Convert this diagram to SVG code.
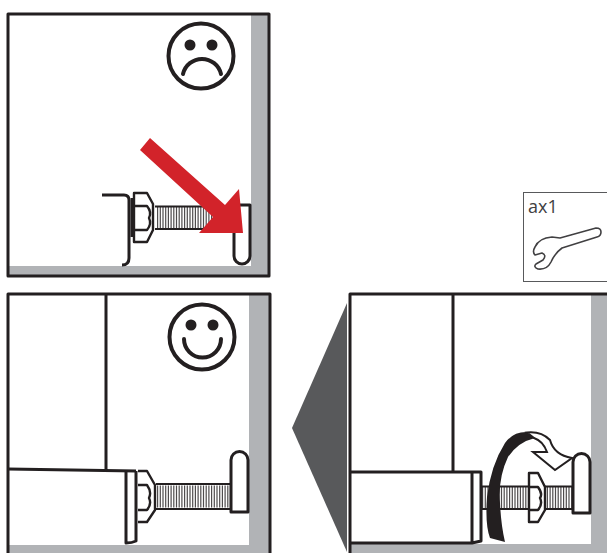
<svg xmlns="http://www.w3.org/2000/svg" width="607" height="553" viewBox="0 0 607 553">
<style>
.l{fill:none;stroke:#231f20;stroke-width:3;stroke-linejoin:round}
.n{fill:#fff;stroke:#231f20;stroke-width:2.4;stroke-linejoin:round}
.t{fill:none;stroke:#231f20;stroke-width:2}
.s{fill:none;stroke:#231f20;stroke-width:4;stroke-linecap:round}
.f{fill:none;stroke:#231f20;stroke-width:4}
.g{fill:#b1b3b6}
.h{fill:none;stroke:#231f20;stroke-width:22;stroke-dasharray:1.2 1.5;opacity:.8}
.e{fill:#231f20}
</style>
<rect width="607" height="553" fill="#fff"/>
<g id="panel-wrong">
<rect class="g" x="251" y="14" width="18" height="261"/>
<rect class="g" x="9" y="266" width="242" height="9"/>
<rect class="l" x="8" y="14" width="261" height="262"/>
<circle class="f" cx="201" cy="56" r="32.500"/>
<circle class="e" cx="190" cy="45" r="5.500"/>
<circle class="e" cx="212" cy="45" r="5.500"/>
<path class="s" d="M183 74A19.500 19.500 0 0 1 221 74"/>
<path class="l" d="M102 195H124Q129 195 129 200V258Q129 265 122 265"/>
<line class="h" x1="157" y1="217.500" x2="222" y2="217.500"/>
<path class="t" d="M155 206.500H225M155 229H205"/>
<path class="l" d="M132 198V237" />
<path class="n" d="M134 193H147L153 204V230L147 242H134ZM134 206H147Q152 212 149 218Q152 224 147 230H134"/>
<path class="l" d="M240 205H250V256A8 8 0 0 1 234 256V233"/>
<polygon points="140,150 150,138 225,205 239,189 243,233 199,233 213,217" fill="#d2232a"/>
</g>
<g id="panel-right">
<rect class="g" x="249" y="295" width="20" height="258"/>
<rect class="g" x="9" y="545" width="240" height="8"/>
<path class="l" d="M8 553V294H270V553"/>
<circle class="f" cx="202" cy="337" r="32.500"/>
<circle class="e" cx="191" cy="325" r="5.500"/>
<circle class="e" cx="213" cy="325" r="5.500"/>
<path class="s" d="M184 339A18.500 18.500 0 0 0 221 339"/>
<path class="l" d="M106 294V470M8 469L136 471"/>
<path class="l" d="M126 471V543Q132 543 136 541V471"/>
<line class="h" x1="157" y1="496.500" x2="230" y2="496.500"/>
<path class="t" d="M156 484H231M156 509H231"/>
<path class="n" d="M138 471H147L155 485V510L147 522H138M138 485H147Q152 492 149 498Q152 504 147 510H138"/>
<path class="l" d="M231 512V460A8.500 8.500 0 0 1 248 460V512Z"/>
</g>
<g id="panel-action">
<rect class="g" x="591" y="295" width="16" height="258"/>
<rect class="g" x="351" y="544" width="240" height="9"/>
<path class="l" d="M350 553V294H607"/>
<path class="l" d="M453 294V472M350 472H481V541L472 543H350M472 472V543"/>
<line class="h" x1="482" y1="497.500" x2="573" y2="497.500"/>
<path class="t" d="M482 486.500H573M482 509H573"/>
<path class="n" d="M529 473H538L545 487V510L538 522H529ZM529 487H538Q543 494 540 498Q543 504 538 510H529"/>
<path class="l" d="M573 513V462A8.500 8.500 0 0 1 590 462V513Z" style="fill:#fff"/>
<path class="e" d="M490 538Q485 525 487 497Q491 465 505 443Q513 432 526 432L535 438Q518 442 508 457Q498 478 500 503Q501 525 505 542Z"/>
<path d="M527 432.500Q541 431 550 440Q554 455 572 458L555 470L533 452L547 452Q543 441 534 438Z" fill="#fff" stroke="#231f20" stroke-width="2" stroke-linejoin="miter"/>
</g>
<g id="pointer">
<polygon points="347,303 292,428 347,552" fill="#58595b"/>
</g>
<g id="tool-box">
<rect x="523.500" y="192.500" width="90" height="89" fill="#fff" stroke="#58595b" stroke-width="1"/>
<text x="528" y="213" font-family="'Open Sans',sans-serif" font-size="18" fill="#414042">ax1</text>
<path d="M560 238L596 228Q601 228 601 232Q601 236 597 237L562 248Q555 253 551 262Q547 270 538 269Q533 267 536 264L543 260Q547 255 542 253L535 255Q532 252 535 247Q539 238 552 237Z" fill="none" stroke="#414042" stroke-width="1.600" stroke-linejoin="round"/>
</g>
</svg>
